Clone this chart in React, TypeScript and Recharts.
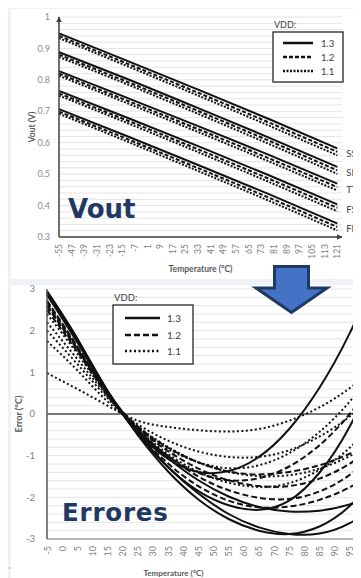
import React from 'react';
import { LineChart, Line, XAxis, YAxis, CartesianGrid, ReferenceLine, LabelList } from 'recharts';

// process corners and supply levels
const corners = ['SS', 'SF', 'TT', 'FS', 'FF'];
const vddLevels = ['1.3', '1.2', '1.1'];

// ---- Vout vs temperature ----
const voutTemps = [-55, -11, 33, 77, 121];
const voutTicks = [-55, -47, -39, -31, -23, -15, -7, 1, 9, 17, 25, 33, 41, 49, 57, 65, 73, 81, 89, 97, 105, 113, 121];
const voutMajor = [0.3, 0.4, 0.5, 0.6, 0.7, 0.8, 0.9, 1];

const vout13 = [
  [0.948, 0.859, 0.769, 0.677, 0.582],
  [0.888, 0.801, 0.71, 0.618, 0.523],
  [0.828, 0.741, 0.653, 0.563, 0.47],
  [0.765, 0.678, 0.589, 0.498, 0.404],
  [0.707, 0.619, 0.529, 0.438, 0.343],
];
const vout12 = [
  [0.94, 0.85, 0.759, 0.666, 0.571],
  [0.88, 0.792, 0.701, 0.608, 0.512],
  [0.82, 0.732, 0.643, 0.552, 0.459],
  [0.757, 0.669, 0.579, 0.487, 0.393],
  [0.699, 0.61, 0.519, 0.427, 0.332],
];
const vout11 = [
  [0.933, 0.842, 0.75, 0.656, 0.56],
  [0.873, 0.784, 0.692, 0.598, 0.501],
  [0.813, 0.724, 0.634, 0.542, 0.448],
  [0.75, 0.661, 0.57, 0.477, 0.382],
  [0.692, 0.602, 0.51, 0.417, 0.321],
];

// ---- Error vs temperature ----
const errTemps = [-5, 5, 15, 25, 35, 45, 55, 65, 75, 85, 95, 105];
const errTicks = [-5, 0, 5, 10, 15, 20, 25, 30, 35, 40, 45, 50, 55, 60, 65, 70, 75, 80, 85, 90, 95];
const errMajor = [-3, -2, -1, 0, 1, 2, 3];

const err13 = [
  [2.95, 1.81, 0.52, -0.44, -1.08, -1.39, -1.37, -1.03, -0.36, 0.63, 1.94, 3.58],
  [2.9, 1.75, 0.55, -0.39, -1.06, -1.59, -1.98, -2.23, -2.34, -2.32, -2.17, -1.89],
  [2.93, 1.8, 0.56, -0.51, -1.38, -2.05, -2.52, -2.8, -2.88, -2.7, -2.21, -1.41],
  [2.88, 1.77, 0.54, -0.46, -1.27, -1.91, -2.4, -2.72, -2.88, -2.87, -2.62, -2.13],
  [2.86, 1.72, 0.52, -0.48, -1.28, -1.85, -2.19, -2.3, -2.08, -1.41, -0.3, 1.25],
];
const err12 = [
  [2.72, 1.62, 0.5, -0.3, -0.81, -1.16, -1.38, -1.45, -1.39, -1.23, -0.95, -0.57],
  [2.68, 1.6, 0.5, -0.33, -0.89, -1.31, -1.59, -1.73, -1.73, -1.55, -1.19, -0.66],
  [2.62, 1.57, 0.49, -0.38, -1.01, -1.5, -1.83, -2.01, -2.04, -1.86, -1.46, -0.84],
  [2.58, 1.55, 0.48, -0.44, -1.19, -1.73, -2.08, -2.24, -2.22, -2.06, -1.76, -1.34],
  [2.5, 1.5, 0.46, -0.39, -1.01, -1.41, -1.59, -1.54, -1.26, -0.75, 0.0, 0.98],
];
const err11 = [
  [0.98, 0.6, 0.2, -0.16, -0.31, -0.39, -0.42, -0.36, -0.16, 0.16, 0.62, 1.2],
  [1.75, 1.05, 0.3, -0.25, -0.64, -0.9, -1.03, -1.03, -0.87, -0.54, -0.06, 0.59],
  [2.0, 1.2, 0.38, -0.3, -0.79, -1.16, -1.39, -1.49, -1.47, -1.31, -1.01, -0.59],
  [2.2, 1.32, 0.42, -0.36, -0.96, -1.39, -1.65, -1.75, -1.66, -1.34, -0.81, -0.04],
  [2.4, 1.45, 0.45, -0.33, -0.84, -1.16, -1.3, -1.23, -0.94, -0.43, 0.3, 1.25],
];

const voutSets: Record<string, number[][]> = { '1.3': vout13, '1.2': vout12, '1.1': vout11 };
const errSets: Record<string, number[][]> = { '1.3': err13, '1.2': err12, '1.1': err11 };

const keyOf = (c: string, v: string) => c + v.replace('.', '');

const buildRows = (temps: number[], sets: Record<string, number[][]>) =>
  temps.map((t, i) => {
    const row: Record<string, number> = { t };
    vddLevels.forEach((v) => corners.forEach((c, k) => { row[keyOf(c, v)] = sets[v][k][i]; }));
    return row;
  });

const voutData = buildRows(voutTemps, voutSets);
const errData = buildRows(errTemps, errSets);

// minor gridline positions
const voutGrid = Array.from({ length: 36 }, (_, i) => +(0.3 + i * 0.02).toFixed(2));
const errGrid = Array.from({ length: 31 }, (_, i) => +(-3 + i * 0.2).toFixed(1));

const topDash: Record<string, string | undefined> = { '1.3': undefined, '1.2': '4 2', '1.1': '2 1.5' };
const botDash: Record<string, string | undefined> = { '1.3': undefined, '1.2': '6 3', '1.1': '2 2.5' };

const FONT = 'Lato, "Open Sans", sans-serif';
const NAVY = '#1f3864';

const majorFmt = (majors: number[]) => (v: number) =>
  majors.some((m) => Math.abs(m - v) < 1e-9) ? String(v) : '';

const RotTick = ({ x, y, payload, size }: any) => (
  <text
    x={x}
    y={y + 5}
    transform={`rotate(-90 ${x} ${y + 5})`}
    textAnchor="end"
    dominantBaseline="central"
    fontSize={size}
    fill="#7f7f7f"
    fontFamily={FONT}
  >
    {payload.value}
  </text>
);

// corner name written after the last point of the 1.2 V line
const cornerLabel = (name: string) => (p: any) => {
  if (p.index !== voutTemps.length - 1) return null;
  const x = p.x ?? p.viewBox?.x;
  const y = p.y ?? p.viewBox?.y;
  return (
    <text x={x + 9} y={y + 2} dominantBaseline="central" fontSize={9.5} fill="#404040" fontFamily={FONT}>
      {name}
    </text>
  );
};

function VddLegend({ left, top, w, h, rowY, x1, x2, tx, fs, dashes }: any) {
  return (
    <svg style={{ position: 'absolute', left, top }} width={w + 6} height={h + 20}>
      <text x={3} y={8} dominantBaseline="central" fontSize={fs - 0.5} fill="#404040" fontFamily={FONT}>VDD:</text>
      <rect x={2} y={16} width={w} height={h} fill="#fff" stroke="#262626" strokeWidth={1.3} />
      {vddLevels.map((v, i) => (
        <g key={v}>
          <line x1={x1} x2={x2} y1={rowY[i]} y2={rowY[i]} stroke="#111" strokeWidth={2.5} strokeDasharray={dashes[v]} />
          <text x={tx} y={rowY[i]} dominantBaseline="central" fontSize={fs} fill="#404040" fontFamily={FONT}>{v}</text>
        </g>
      ))}
    </svg>
  );
}

export default function App() {
  return (
    <div style={{ position: 'relative', width: 361, height: 578, margin: '-8px 0 0 -8px', overflow: 'hidden', background: '#eef2f7' }}>
      <svg width={0} height={0} style={{ position: 'absolute' }}>
        <defs>
          <marker id="axArrow" viewBox="0 0 10 10" refX="9" refY="5" markerWidth="4" markerHeight="4" orient="auto-start-reverse">
            <path d="M0,0 L10,5 L0,10 z" fill="#404040" />
          </marker>
        </defs>
      </svg>

      {/* panels */}
      <div style={{ position: 'absolute', left: 11, top: 9, width: 350, height: 270, background: '#fff' }} />
      <div style={{ position: 'absolute', left: 11, top: 285, width: 350, height: 293, background: '#fff' }} />
      <div style={{ position: 'absolute', left: 0, top: 567, width: 11, height: 2, background: '#c5d5ea' }} />

      {/* Vout chart */}
      <div style={{ position: 'absolute', left: 0, top: 0 }}>
        <LineChart width={361} height={280} data={voutData} margin={{ top: 17, right: 19, bottom: 0, left: 0 }}>
          <CartesianGrid vertical={false} stroke="#e4e4e4" />
          <XAxis
            dataKey="t"
            type="number"
            domain={[-55, 124]}
            ticks={voutTicks}
            interval={0}
            height={43}
            tickLine={false}
            tickSize={0}
            tick={<RotTick size={8.5} />}
            axisLine={{ stroke: '#404040', strokeWidth: 1.5, markerEnd: 'url(#axArrow)' }}
            label={{ value: 'Temperature (°C)', position: 'insideBottom', offset: 8, fill: '#595959', fontSize: 8.5, fontWeight: 700, fontFamily: FONT }}
          />
          <YAxis
            type="number"
            domain={[0.3, 1]}
            ticks={voutGrid}
            interval={0}
            width={59}
            tickLine={false}
            tickSize={0}
            tickMargin={9}
            tickFormatter={majorFmt(voutMajor)}
            tick={{ fontSize: 9, fill: '#8c8c8c', fontFamily: FONT }}
            axisLine={{ stroke: '#404040', strokeWidth: 1.5, markerStart: 'url(#axArrow)' }}
            label={{ value: 'Vout (V)', angle: -90, position: 'center', dx: 2, fill: '#595959', fontSize: 8.5, fontWeight: 700, fontFamily: FONT }}
          />
          {vddLevels.map((v) =>
            corners.map((c) => (
              <Line
                key={keyOf(c, v)}
                dataKey={keyOf(c, v)}
                type="monotone"
                stroke="#111"
                strokeWidth={2}
                strokeDasharray={topDash[v]}
                isAnimationActive={false}
                dot={false}
                activeDot={false}
              >
                {v === '1.2' && <LabelList dataKey={keyOf(c, v)} content={cornerLabel(c)} />}
              </Line>
            ))
          )}
        </LineChart>
      </div>

      {/* Error chart */}
      <div style={{ position: 'absolute', left: 0, top: 283, width: 361, height: 295, overflow: 'hidden' }}>
        <LineChart width={470} height={295} data={errData} margin={{ top: 6, right: 90, bottom: 0, left: 0 }}>
          <CartesianGrid vertical={false} stroke="#e4e4e4" />
          <XAxis
            dataKey="t"
            type="number"
            domain={[-5, 105]}
            ticks={errTicks}
            interval={0}
            height={39}
            tickLine={false}
            tickSize={0}
            tick={<RotTick size={9} />}
            axisLine={{ stroke: '#7f7f7f', strokeWidth: 1.2 }}
            label={{ value: 'Temperature (°C)', position: 'insideBottom', offset: 2, dx: -40, fill: '#595959', fontSize: 8, fontWeight: 700, fontFamily: FONT }}
          />
          <YAxis
            type="number"
            domain={[-3, 3]}
            allowDataOverflow
            ticks={errGrid}
            interval={0}
            width={47}
            tickLine={false}
            tickSize={0}
            tickMargin={12}
            tickFormatter={majorFmt(errMajor)}
            tick={{ fontSize: 9.5, fill: '#7f7f7f', fontFamily: FONT }}
            axisLine={{ stroke: '#595959', strokeWidth: 1.5 }}
            label={{ value: 'Error (°C)', angle: -90, position: 'center', dx: -5, fill: '#595959', fontSize: 9, fontWeight: 700, fontFamily: FONT }}
          />
          <ReferenceLine y={0} stroke="#000" strokeWidth={1} />
          {vddLevels.map((v) =>
            corners.map((c) => (
              <Line
                key={keyOf(c, v)}
                dataKey={keyOf(c, v)}
                type="natural"
                stroke="#111"
                strokeWidth={2}
                strokeDasharray={botDash[v]}
                isAnimationActive={false}
                dot={false}
                activeDot={false}
              />
            ))
          )}
        </LineChart>
      </div>

      <VddLegend left={271} top={16} w={70} h={50} rowY={[27, 41, 55]} x1={12} x2={42} tx={50} fs={9.5} dashes={topDash} />
      <VddLegend left={111} top={289} w={80} h={59} rowY={[29, 46, 62]} x1={14} x2={49} tx={56} fs={10} dashes={botDash} />

      <div style={{ position: 'absolute', left: 68, top: 193, fontFamily: '"DejaVu Sans", sans-serif', fontWeight: 700, fontSize: 26, color: NAVY, lineHeight: '32px' }}>
        Vout
      </div>
      <div style={{ position: 'absolute', left: 62, top: 498, fontFamily: '"DejaVu Sans", sans-serif', fontWeight: 700, fontSize: 24.5, color: NAVY, letterSpacing: 0.8, lineHeight: '30px' }}>
        Errores
      </div>

      <svg style={{ position: 'absolute', left: 250, top: 262 }} width={85} height={56}>
        <polygon
          points="24.5,4.5 58.5,4.5 58.5,26 77,26 41.5,50.5 6,26 24.5,26"
          fill="#4472c4"
          stroke={NAVY}
          strokeWidth={3}
        />
      </svg>
    </div>
  );
}
